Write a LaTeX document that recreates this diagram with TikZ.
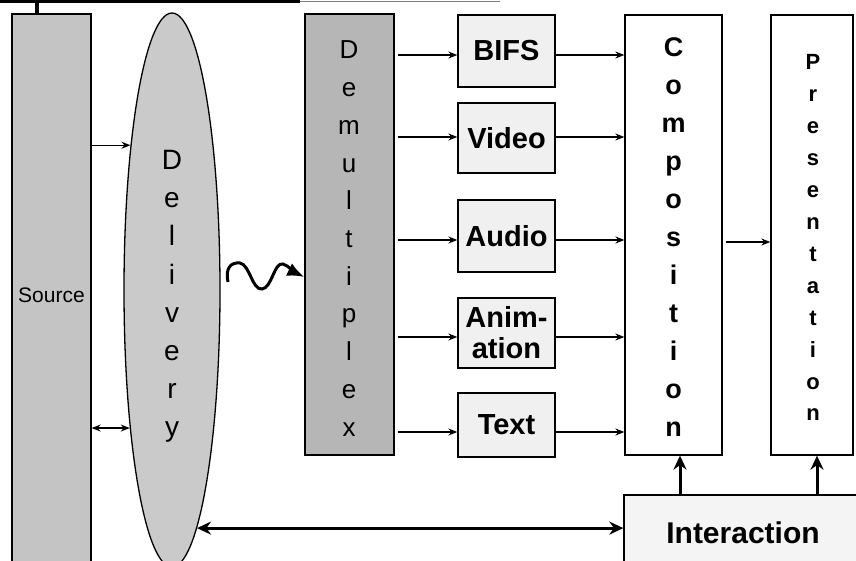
\documentclass[tikz,border=0pt]{standalone}
\usepackage{fontspec}
\setmainfont{Liberation Sans}
\usetikzlibrary{arrows.meta,shapes.geometric,calc}
\definecolor{gsrc}{HTML}{C4C4C4}
\definecolor{gdel}{HTML}{CACACA}
\definecolor{gdmx}{HTML}{B6B6B6}
\definecolor{gmed}{HTML}{F0F0F0}
\definecolor{gint}{HTML}{F4F4F4}
\begin{document}
\begin{tikzpicture}[x=1pt,y=-1pt,
  box/.style={draw=black,line width=1.3pt,rectangle,inner sep=0pt,anchor=center},
  media/.style={box,fill=gmed,minimum width=97pt,font=\fontsize{29}{31}\selectfont\bfseries,align=center},
  thinarrow/.style={line width=1.3pt,-{Stealth[length=9pt,width=7pt]}},
  thinboth/.style={line width=1.3pt,{Stealth[length=9pt,width=7pt]}-{Stealth[length=9pt,width=7pt]}},
  thickarrow/.style={line width=3pt,-{Stealth[length=14pt,width=13pt]}},
  thickboth/.style={line width=3pt,{Stealth[length=14pt,width=13pt]}-{Stealth[length=14pt,width=13pt]}},
  bigletter/.style={anchor=base,inner sep=0pt,font=\fontsize{28}{30}\selectfont},
  completter/.style={anchor=base,inner sep=0pt,font=\fontsize{27}{30}\selectfont\bfseries},
  presletter/.style={anchor=base,inner sep=0pt,font=\fontsize{22}{24}\selectfont\bfseries}
]
\useasboundingbox (0,0) rectangle (856,561);
\clip (0,0) rectangle (856,561);

% top line and stub
\coordinate (t0) at (0,2);
\coordinate (t1) at (300,2);
\coordinate (t2) at (500,2);
\coordinate (ts) at (37,2);
\draw[line width=3pt] (t0) -- (t1);
\draw[line width=1pt,gray] (t1) -- (t2);

% Source
\node[box,fill=gsrc,minimum width=79pt,minimum height=562pt,font=\fontsize{21}{24}\selectfont] (src) at (51.5,295) {Source};
\draw[line width=4pt] (ts) -- (ts |- src.north);

% Delivery
\node[ellipse,draw=black,line width=1.3pt,fill=gdel,minimum width=96pt,minimum height=554pt,inner sep=0pt] (del) at (172,290) {};
\foreach \l [count=\i from 0] in {D,e,l,i,v,e,r,y}
  \node[bigletter] (dl\i) at (172,170+38*\i) {\l};

% Demultiplex
\node[box,fill=gdmx,minimum width=89pt,minimum height=441pt] (dmx) at (349.5,234.5) {};
\foreach \l [count=\i from 0] in {D,e,m,u,l,t,i,p,l,e,x}
  \node[bigletter,font=\fontsize{26}{30}\selectfont] (dm\i) at (349,59+37.7*\i) {\l};

% media boxes
\node[media,minimum height=72pt] (bifs) at (506.5,51) {BIFS};
\node[media,minimum height=70pt] (video) at (506.5,138) {Video};
\node[media,minimum height=72pt] (audio) at (506.5,236) {Audio};
\node[media,minimum height=70pt] (anim) at (506.5,333) {Anim-\\ation};
\node[media,minimum height=64pt] (text) at (506.5,425) {Text};

% Composition
\node[box,fill=white,minimum width=97pt,minimum height=440pt] (comp) at (673.5,235) {};
\foreach \l [count=\i from 0] in {C,o,m,p,o,s,i,t,i,o,n}
  \node[completter] (cl\i) at (673.5,57+37.9*\i) {\l};

% Presentation
\node[box,fill=white,minimum width=82pt,minimum height=440pt] (pres) at (812,235) {};
\foreach \l [count=\i from 0] in {P,r,e,s,e,n,t,a,t,i,o,n}
  \node[presletter] (pl\i) at (813,70+31.9*\i) {\l};

% Interaction
\node[box,fill=gint,minimum width=276pt,minimum height=105pt] (inter) at (762,547.5) {};
\node[inner sep=0pt,font=\fontsize{30}{32}\selectfont\bfseries] (intertext) at (743,533) {Interaction};

% Source <-> Delivery
\draw[thinarrow] (src.east |- del.106.3) -- (del.106.3);
\draw[thinboth] (src.east |- del.253.9) -- (del.253.9);

% wavy arrow
\coordinate (w0) at (228,282);
\coordinate (w1) at (dmx.west |- 0,277);
\draw[line width=3pt,-{Latex[length=17pt,width=14pt]}] (w0) .. controls (225,268) and (231,262) .. (240,263)
  .. controls (250,265) and (252,290) .. (262,289)
  .. controls (272,288) and (274,262) .. (283,264)
  .. controls (289,266) and (294,272) .. (w1);

% Demux -> media, media -> composition
\foreach \n/\s in {bifs/-4, video/1, audio/-4, anim/-4, text/-7} {
  \coordinate (a\n) at ([yshift=\s pt]\n.west);
  \coordinate (b\n) at ([yshift=\s pt]\n.east);
  \draw[thinarrow,shorten <=3pt] (dmx.east |- a\n) -- (a\n);
  \draw[thinarrow] (b\n) -- (comp.west |- b\n);
}

% Composition -> Presentation
\coordinate (cp) at ([yshift=-7pt]comp.east);
\draw[thinarrow,shorten <=3pt] (cp) -- (pres.west |- cp);

% Interaction -> Composition / Presentation
\coordinate (ci) at ([xshift=6.5pt]comp.south);
\coordinate (pi) at ([xshift=5pt]pres.south);
\draw[thickarrow] (ci |- inter.north) -- (ci);
\draw[thickarrow] (pi |- inter.north) -- (pi);

% Delivery <-> Interaction
\draw[thickboth] (del.-84.2) -- (inter.west |- del.-84.2);
\end{tikzpicture}
\end{document}
